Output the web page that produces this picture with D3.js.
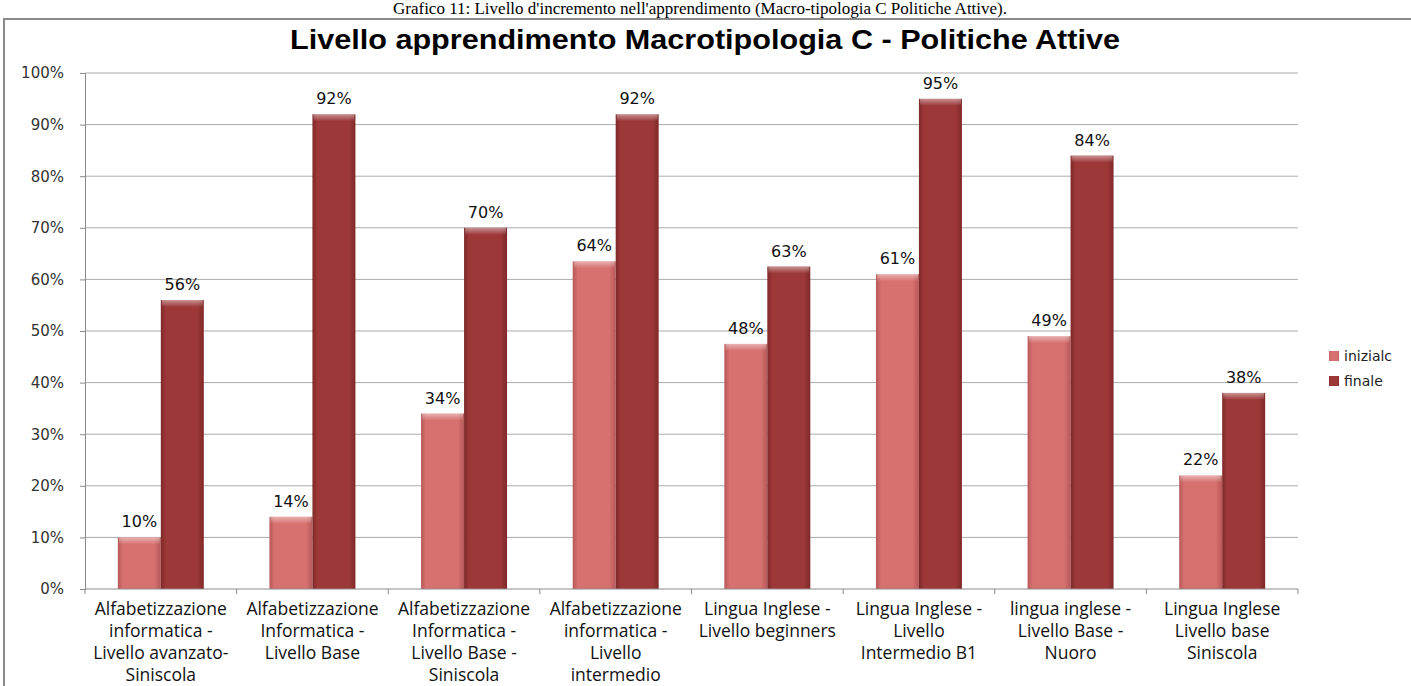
<!DOCTYPE html>
<html>
<head>
<meta charset="utf-8">
<script src="https://cdn.jsdelivr.net/npm/d3@7/dist/d3.min.js"></script>
<style>
  body { margin: 0; background: #fff; }
  svg { display: block; }
</style>
</head>
<body>
<div id="chart"></div>
<script>
const categories = [
  ['Alfabetizzazione', 'informatica -', 'Livello avanzato-', 'Siniscola'],
  ['Alfabetizzazione', 'Informatica -', 'Livello Base'],
  ['Alfabetizzazione', 'Informatica -', 'Livello Base -', 'Siniscola'],
  ['Alfabetizzazione', 'informatica -', 'Livello', 'intermedio'],
  ['Lingua Inglese -', 'Livello beginners'],
  ['Lingua Inglese -', 'Livello', 'Intermedio B1'],
  ['lingua inglese -', 'Livello Base -', 'Nuoro'],
  ['Lingua Inglese', 'Livello base', 'Siniscola']
]
const seriesNames = ['inizialc', 'finale']
const iniziale = [0.10, 0.14, 0.34, 0.635, 0.475, 0.61, 0.49, 0.22]
const finale = [0.56, 0.92, 0.70, 0.92, 0.625, 0.95, 0.84, 0.38]
const yTicks = [0, 0.1, 0.2, 0.3, 0.4, 0.5, 0.6, 0.7, 0.8, 0.9, 1]

const width = 1411
const height = 686
const plotL = 85, plotR = 1298, plotT = 73, plotB = 589

const svg = d3.select('#chart').append('svg')
  .attr('width', width)
  .attr('height', height)

const defs = svg.append('defs')
function barGradient(id, edge, mid) {
  const g = defs.append('linearGradient').attr('id', id)
    .attr('x1', 0).attr('x2', 1).attr('y1', 0).attr('y2', 0)
  g.append('stop').attr('offset', '0%').attr('stop-color', edge)
  g.append('stop').attr('offset', '12%').attr('stop-color', mid)
  g.append('stop').attr('offset', '85%').attr('stop-color', mid)
  g.append('stop').attr('offset', '100%').attr('stop-color', edge)
}
barGradient('gIni', '#b65858', '#d77170')
barGradient('gFin', '#7f2828', '#9d3838')
const topG = defs.append('linearGradient').attr('id', 'gTop')
  .attr('x1', 0).attr('x2', 0).attr('y1', 0).attr('y2', 1)
topG.append('stop').attr('offset', '0%').attr('stop-color', '#fff').attr('stop-opacity', 0.45)
topG.append('stop').attr('offset', '100%').attr('stop-color', '#fff').attr('stop-opacity', 0)

// caption above the frame
svg.append('text')
  .attr('x', 700).attr('y', 14)
  .attr('text-anchor', 'middle')
  .attr('font-family', 'Liberation Serif, serif')
  .attr('font-size', '17px')
  .attr('fill', '#000')
  .text("Grafico 11: Livello d'incremento nell'apprendimento (Macro-tipologia C Politiche Attive).")

// chart frame
svg.append('rect')
  .attr('x', 4).attr('y', 19)
  .attr('width', 1420).attr('height', 700)
  .attr('fill', '#fff')
  .attr('stroke', '#8a8a8a')
  .attr('stroke-width', 2)

svg.append('text')
  .attr('x', 705).attr('y', 49)
  .attr('text-anchor', 'middle')
  .attr('font-family', 'Liberation Sans, Arial, sans-serif')
  .attr('font-weight', 'bold')
  .attr('font-size', '27px')
  .attr('textLength', 830)
  .attr('lengthAdjust', 'spacingAndGlyphs')
  .attr('fill', '#000')
  .text('Livello apprendimento Macrotipologia C - Politiche Attive')

const y = d3.scaleLinear().domain([0, 1]).range([plotB, plotT])
const x = d3.scaleBand().domain(d3.range(categories.length)).range([plotL, plotR])
  .paddingInner(0.433).paddingOuter(0.2165)
const xs = d3.scaleBand().domain(seriesNames).range([0, x.bandwidth()])

// gridlines
svg.append('g').selectAll('line')
  .data(yTicks.slice(1))
  .join('line')
  .attr('x1', plotL).attr('x2', plotR)
  .attr('y1', d => y(d)).attr('y2', d => y(d))
  .attr('stroke', '#ababab')
  .attr('stroke-width', 1)

// y axis
const yAxis = svg.append('g')
  .attr('transform', `translate(${plotL},0)`)
  .call(d3.axisLeft(y).tickValues(yTicks).tickFormat(d3.format('.0%')).tickSize(5).tickPadding(16))
yAxis.select('.domain').attr('stroke', '#8a8a8a')
yAxis.selectAll('.tick line').attr('stroke', '#8a8a8a')
yAxis.selectAll('text')
  .attr('font-family', 'DejaVu Sans, Verdana, sans-serif')
  .attr('font-size', '15px')
  .attr('fill', '#333')

// bars
const series = [iniziale, finale]
const groups = svg.append('g').selectAll('g')
  .data(series)
  .join('g')

groups.each(function (vals, si) {
  const g = d3.select(this)
  const name = seriesNames[si]
  const bx = i => x(i) + xs(name)
  g.selectAll('rect.bar')
    .data(vals)
    .join('rect')
    .attr('class', 'bar')
    .attr('x', (d, i) => bx(i))
    .attr('y', d => y(d))
    .attr('width', xs.bandwidth())
    .attr('height', d => y(0) - y(d))
    .attr('fill', si === 0 ? 'url(#gIni)' : 'url(#gFin)')
  g.selectAll('rect.cap')
    .data(vals)
    .join('rect')
    .attr('class', 'cap')
    .attr('x', (d, i) => bx(i) + 1)
    .attr('y', d => y(d))
    .attr('width', xs.bandwidth() - 2)
    .attr('height', 7)
    .attr('fill', 'url(#gTop)')
  g.selectAll('text')
    .data(vals)
    .join('text')
    .attr('x', (d, i) => bx(i) + xs.bandwidth() / 2)
    .attr('y', d => y(d) - 10)
    .attr('text-anchor', 'middle')
    .attr('font-family', 'DejaVu Sans, Verdana, sans-serif')
    .attr('font-size', '16px')
    .attr('fill', '#111')
    .text(d => d3.format('.0%')(d))
})

// x axis
const xAxis = svg.append('g')
  .attr('transform', `translate(0,${plotB})`)
xAxis.append('line')
  .attr('x1', plotL).attr('x2', plotR)
  .attr('stroke', '#8a8a8a')
xAxis.selectAll('line.tk')
  .data(d3.range(categories.length + 1))
  .join('line')
  .attr('class', 'tk')
  .attr('x1', i => plotL + i * x.step()).attr('x2', i => plotL + i * x.step())
  .attr('y1', 0).attr('y2', 5)
  .attr('stroke', '#8a8a8a')

svg.append('g').selectAll('text')
  .data(categories)
  .join('text')
  .attr('text-anchor', 'middle')
  .attr('font-family', 'Open Sans, sans-serif')
  .attr('font-size', '17.5px')
  .attr('fill', '#111')
  .each(function (lines, i) {
    d3.select(this).selectAll('tspan')
      .data(lines)
      .join('tspan')
      .attr('x', x(i) + x.bandwidth() / 2)
      .attr('y', (d, j) => 615 + j * 22)
      .text(d => d)
  })

// legend
const legend = svg.append('g').attr('transform', 'translate(1329,351)')
seriesNames.forEach((name, i) => {
  legend.append('rect')
    .attr('x', 0).attr('y', i * 25)
    .attr('width', 10).attr('height', 10)
    .attr('fill', i === 0 ? 'url(#gIni)' : 'url(#gFin)')
  legend.append('text')
    .attr('x', 15).attr('y', i * 25 + 10)
    .attr('font-family', 'DejaVu Sans, Verdana, sans-serif')
    .attr('font-size', '14px')
    .attr('fill', '#222')
    .text(name)
})
</script>
</body>
</html>
